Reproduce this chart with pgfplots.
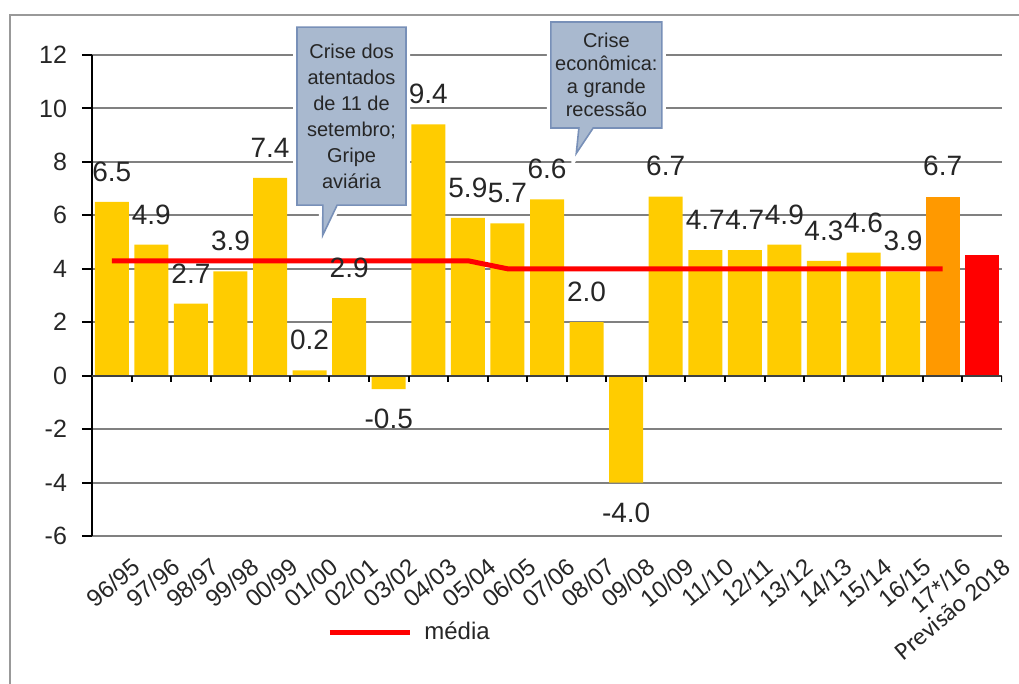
\documentclass[border=0pt]{standalone}
\usepackage{fontspec}
\setmainfont{Liberation Sans}
\newfontfamily\calibri{Carlito}
\usepackage{pgfplots}
\pgfplotsset{compat=1.18}
\usetikzlibrary{shapes.callouts}

\definecolor{barY}{HTML}{FFCC00}
\definecolor{barO}{HTML}{FF9900}
\definecolor{barR}{HTML}{FF0000}
\definecolor{gridc}{HTML}{808080}
\definecolor{callfill}{HTML}{A9B9CF}
\definecolor{calldraw}{HTML}{7890B8}
\definecolor{txt}{HTML}{262626}

\begin{document}
\begin{tikzpicture}
\path[use as bounding box] (-46pt,-74pt) rectangle (463.5pt,268pt);
\draw[gray!80, line width=1.3pt] (-41pt,-80pt) -- (-41pt,260.5pt) -- (470pt,260.5pt);
\begin{axis}[
  at={(0,0)}, anchor=south west,
  width=455pt, height=240.5pt, scale only axis,
  xmin=-0.5, xmax=22.5, ymin=-6, ymax=12,
  ytick={-6,-4,...,12},
  xtick={0,...,22},
  xticklabels={96/95,97/96,98/97,99/98,00/99,01/00,02/01,03/02,04/03,05/04,06/05,07/06,08/07,09/08,10/09,11/10,12/11,13/12,14/13,15/14,16/15,17*/16,{\calibri\fontsize{12.5}{14}\selectfont Previsão 2018}},
  xticklabel style={rotate=40, anchor=north east, font=\fontsize{12}{13}\selectfont, inner sep=1pt, xshift=5pt, yshift=-9pt, text=txt},
  yticklabel style={font=\fontsize{12.5}{13}\selectfont, text=txt, xshift=-4pt},
  axis x line*=bottom, axis y line*=left,
  x axis line style={draw=none},
  y axis line style={black, line width=1pt},
  xtick style={draw=none},
  ytick style={black, line width=1pt},
  tick align=outside, major tick length=5pt,
  ymajorgrids, grid style={gridc, line width=1pt},
  /pgf/number format/assume math mode=true,
  legend style={at={(0.35,-0.2)}, anchor=center, draw=none, fill=none, font=\fontsize{12}{13}\selectfont, text=txt},
  legend image code/.code={\draw[#1, line width=2.5pt] (0pt,0pt) -- (40pt,0pt);},
  every node near coord/.append style={font=\fontsize{14}{16}\selectfont, inner ysep=10pt, text=txt},
  nodes near coords align={vertical},
]
\addplot[ybar, bar width=17pt, fill=barY, draw=none, forget plot,
  nodes near coords={\pgfmathprintnumber[fixed,fixed zerofill,precision=1]{\pgfplotspointmeta}}]
  coordinates {(0,6.5) (1,4.9) (2,2.7) (3,3.9) (4,7.4) (5,0.2) (6,2.9) (7,-0.5) (8,9.4) (9,5.9) (10,5.7) (11,6.6) (12,2.0) (13,-4.0) (14,6.7) (15,4.7) (16,4.7) (17,4.9) (18,4.3) (19,4.6) (20,3.9)};
\addplot[ybar, bar width=17pt, fill=barO, draw=none, forget plot,
  nodes near coords={\pgfmathprintnumber[fixed,fixed zerofill,precision=1]{\pgfplotspointmeta}}]
  coordinates {(21,6.7)};
\addplot[ybar, bar width=17pt, fill=barR, draw=none, forget plot]
  coordinates {(22,4.5)};
\addplot[color=barR, line width=2.5pt, mark=none] coordinates {(0,4.3) (9,4.3) (10,4.0) (21,4.0)};
\addlegendentry{\hspace{4pt}média}
\draw[black!75, line width=1pt] (axis cs:-0.5,0) -- (axis cs:22.5,0);
\pgfplotsinvokeforeach{0.5,1.5,...,22.5}{\draw[black, line width=1pt] (axis cs:#1,0) -- ([yshift=-3pt]axis cs:#1,0);}
\coordinate (c1) at (axis cs:6.06,9.71);
\coordinate (p1) at (axis cs:5.33,5.25);
\coordinate (c2) at (axis cs:12.5,11.25);
\coordinate (p2) at (axis cs:11.74,8.32);
\end{axis}
\node[rectangle callout, draw=white, line width=4pt, fill=white, minimum width=54.5pt, minimum height=89pt, callout absolute pointer={(p1)}] at (c1) {};
\node[rectangle callout, draw=calldraw, line width=0.8pt, fill=callfill, minimum width=54.5pt, minimum height=89pt, inner sep=1pt, align=center, text=txt, font=\fontsize{10}{13}\selectfont, callout absolute pointer={(p1)}] at (c1) {Crise dos\\atentados\\de 11 de\\setembro;\\Gripe\\aviária};
\node[rectangle callout, draw=white, line width=4pt, fill=white, minimum width=55.5pt, minimum height=53pt, callout absolute pointer={(p2)}] at (c2) {};
\node[rectangle callout, draw=calldraw, line width=0.8pt, fill=callfill, minimum width=55.5pt, minimum height=53pt, inner sep=1pt, align=center, text=txt, font=\fontsize{10}{11.5}\selectfont, callout absolute pointer={(p2)}] at (c2) {Crise\\econômica:\\a grande\\recessão};
\end{tikzpicture}
\end{document}
